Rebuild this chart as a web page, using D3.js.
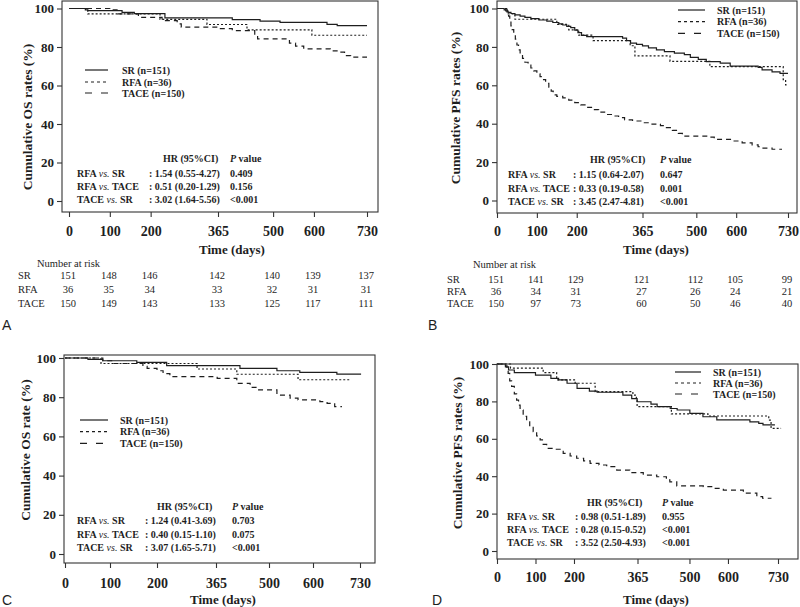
<!DOCTYPE html>
<html><head><meta charset="utf-8">
<script src="https://cdn.jsdelivr.net/npm/d3@7"></script>
<style>
body{margin:0;background:#fff;}
svg{display:block;}
text{white-space:pre;}
</style></head><body>
<svg id="chart" width="800" height="607"></svg>
<script>
// ---------- shared ticks / labels ----------
const xTicks = [0, 100, 200, 365, 500, 600, 730];
const yTicks = [0, 20, 40, 60, 80, 100];
const groups = ["SR", "RFA", "TACE"];
const legendLabels = ["SR (n=151)", "RFA (n=36)", "TACE (n=150)"];

// ---------- Panel A: OS ----------
const osA_SR = [[0,100],[40,99.3],[46,98.9],[130,98.0],[160,97.3],[235,95.1],[400,94.2],[468,93.4],[517,92.8],[632,91.8],[657,91.1],[730,91.1]];
const osA_RFA = [[0,100],[46,97.2],[223,94.4],[338,91.7],[436,88.9],[595,86.1],[730,86.1]];
const osA_TACE = [[0,100],[100,99.3],[120,97.2],[170,95.4],[228,93.7],[265,92.0],[275,90.3],[365,89.5],[400,88.5],[455,86.0],[462,84.2],[540,82.0],[555,80.5],[575,79.0],[640,78.0],[660,77.3],[675,75.5],[690,74.7],[730,74.7]];
const hrA = [["RFA","SR",": 1.54 (0.55-4.27)","0.409"],["RFA","TACE",": 0.51 (0.20-1.29)","0.156"],["TACE","SR",": 3.02 (1.64-5.56)","<0.001"]];
const riskA_SR = [151,148,146,142,140,139,137];
const riskA_RFA = [36,35,34,33,32,31,31];
const riskA_TACE = [150,149,143,133,125,117,111];

// ---------- Panel B: PFS ----------
const pfsB_SR = [[0,100],[18,99.3],[22,98.7],[28,98.0],[35,97.4],[45,96.7],[58,96.0],[70,95.4],[85,94.7],[105,94.0],[125,93.4],[140,92.7],[155,92.0],[165,91.4],[175,90.7],[185,90.0],[195,88.7],[203,87.4],[212,86.0],[225,85.3],[315,84.6],[325,83.3],[335,82.0],[350,81.3],[365,80.5],[380,79.5],[400,78.5],[420,77.5],[445,76.8],[470,76.0],[485,74.5],[505,73.5],[525,72.3],[560,71.5],[585,70.0],[655,69.3],[665,68.0],[690,67.0],[710,66.2],[730,66.2]];
const pfsB_RFA = [[0,100],[25,97.2],[45,94.4],[150,91.7],[180,88.9],[205,86.1],[241,83.3],[334,80.6],[346,75.3],[434,72.5],[534,69.7],[718,63.0],[724,60.2],[728,60.2]];
const pfsB_TACE = [[0,100],[22,99.3],[26,98],[29,96],[32,93.5],[35,91],[38,89],[42,86.5],[46,84],[50,81],[54,78.5],[58,76],[64,74],[70,72],[78,70.5],[85,69],[92,67.5],[100,66],[108,64.5],[115,63],[122,61],[130,59],[136,57],[141,55],[150,54.2],[165,53.5],[180,52.3],[195,51],[210,49.8],[225,48.5],[240,47.3],[255,46],[270,44.8],[290,44],[305,43.2],[320,42],[340,41.4],[365,40.5],[385,39.8],[410,39],[425,38],[440,36.5],[455,35],[465,33.5],[535,33],[545,31.8],[590,31],[615,30],[640,29],[655,28],[665,27.3],[690,26.7],[715,26.7]];
const hrB = [["RFA","SR",": 1.15 (0.64-2.07)","0.647"],["RFA","TACE",": 0.33 (0.19-0.58)","0.001"],["TACE","SR",": 3.45 (2.47-4.81)","<0.001"]];
const riskB_SR = [151,141,129,121,112,105,99];
const riskB_RFA = [36,34,31,27,26,24,21];
const riskB_TACE = [150,97,73,60,50,46,40];

// ---------- Panel C: OS ----------
const osC_SR = [[0,100],[51,99.3],[84,98.6],[157,97.8],[227,96.1],[426,94.7],[518,93.5],[570,92.7],[666,91.8],[733,91.8]];
const osC_RFA = [[0,100],[80,97.2],[312,94.4],[418,91.7],[566,88.9],[702,88.9]];
const osC_TACE = [[0,100],[84,98.6],[106,97.2],[170,95.8],[179,94.7],[200,93.5],[217,92.0],[236,90.5],[368,89.6],[418,87.1],[452,85.0],[470,83.7],[518,81.1],[548,79.5],[566,78.6],[619,77.7],[639,76.9],[660,75.2],[680,75.2]];
const hrC = [["RFA","SR",": 1.24 (0.41-3.69)","0.703"],["RFA","TACE",": 0.40 (0.15-1.10)","0.075"],["TACE","SR",": 3.07 (1.65-5.71)","<0.001"]];

// ---------- Panel D: PFS ----------
const pfsD_SR = [[0,100],[22,98.5],[30,96.8],[45,95.4],[100,94.1],[140,92.3],[160,91.5],[182,89.7],[208,87.0],[240,85.5],[260,84.9],[327,83.4],[350,81.5],[364,79.8],[400,78.5],[416,77.2],[450,76.2],[468,75.4],[501,73.6],[535,71.8],[571,70.1],[657,69.1],[680,68.2],[691,67.4],[722,67.4]];
const pfsD_RFA = [[0,100],[35,97.8],[120,95.4],[155,91.5],[203,89.7],[255,85.2],[353,83.4],[362,80.5],[364,77.2],[453,73.3],[548,72.2],[706,70.0],[712,65.6],[738,65.6]];
const pfsD_TACE = [[0,100],[22,99],[26,97],[29,95],[33,91],[38,88],[45,84],[51,80.7],[56,78],[60,75.4],[68,72],[77,69.1],[85,66.5],[94,63.8],[103,61.5],[112,59.4],[120,57],[129,54.9],[150,54.4],[172,52.2],[190,50.8],[207,49.6],[225,48.2],[242,46.9],[265,46],[285,45.1],[311,43.3],[345,41.9],[380,40.6],[415,39.7],[440,38],[449,37],[467,34.8],[536,34.4],[560,33.5],[588,32.6],[640,30.9],[675,29.1],[690,28.2],[713,28.2]];
const hrD = [["RFA","SR",": 0.98 (0.51-1.89)","0.955"],["RFA","TACE",": 0.28 (0.15-0.52)","<0.001"],["TACE","SR",": 3.52 (2.50-4.93)","<0.001"]];

// ---------- layout ----------
const SERIF = '"Liberation Serif","Times New Roman",serif';
const SANS = '"Liberation Sans",Arial,sans-serif';
const INK = "#1e1e1e";
const curveDash = {SR: null, RFA: "2,2", TACE: "5,4"};
const legendDash = {SR: null, RFA: "3,3", TACE: "7,9"};

const panels = [
  {letter:"A", letterPos:[2,330], series:[osA_SR,osA_RFA,osA_TACE], hr:hrA,
   box:[62,1,378,212], xDomain:[0,730], xRange:[69,367], yRange:[201,8.5], xLabC:231,
   ytitle:"Cumulative OS rates (%)", ytPos:[27,117], timePos:[232,249],
   legend:{l0:85,l1:108,tx:122,ys:[70,82,93]},
   hrPos:{hx:163,hy:158,px:230,lx:77,cx:149,ys:[173,186,199]},
   risk:{hx:37,hy:263,lx:18,ys:[275,289,303],rows:[riskA_SR,riskA_RFA,riskA_TACE]}},
  {letter:"B", letterPos:[428,330], series:[pfsB_SR,pfsB_RFA,pfsB_TACE], hr:hrB,
   box:[497,1,797,213], xDomain:[0,730], xRange:[497,788], yRange:[200.5,8.5], xLabC:231,
   ytitle:"Cumulative PFS rates (%)", ytPos:[455,108], timePos:[656,249],
   legend:{l0:678,l1:705,tx:717,ys:[10,21.7,33.3]},
   hrPos:{hx:590,hy:159,px:660,lx:508,cx:573,ys:[174,188,201]},
   risk:{hx:473,hy:264,lx:447,ys:[279,291,303],rows:[riskB_SR,riskB_RFA,riskB_TACE]}},
  {letter:"C", letterPos:[2,605], series:[osC_SR,osC_RFA,osC_TACE], hr:hrC,
   box:[64,355,375,563], xDomain:xTicks, xRange:[65,110,157,216,269,313,360], yRange:[554,358], xLabC:583,
   ytitle:"Cumulative OS rate (%)", ytPos:[25,450], timePos:[223,599],
   legend:{l0:80,l1:108,tx:120,ys:[420,431.7,443.3]},
   hrPos:{hx:157,hy:506,px:232,lx:77,cx:145,ys:[520,534,547]}},
  {letter:"D", letterPos:[432,605], series:[pfsD_SR,pfsD_RFA,pfsD_TACE], hr:hrD,
   box:[497,364,798,559], xDomain:[0,730], xRange:[497,778], yRange:[551,364], xLabC:577,
   ytitle:"Cumulative PFS rates (%)", ytPos:[457,453], timePos:[656,599],
   legend:{l0:675,l1:701,tx:713,ys:[372,383,394]},
   hrPos:{hx:587,hy:502,px:662,lx:507,cx:575,ys:[516,529,542]}}
];

const svg = d3.select("#chart");

function boldText(g, x, y, str, size) {
  return g.append("text").attr("x", x).attr("y", y).attr("dy", "0.35em")
    .attr("font-family", SERIF).attr("font-weight", "bold").attr("font-size", size)
    .attr("fill", INK).text(str);
}

panels.forEach(p => {
  const g = svg.append("g");
  const x = d3.scaleLinear().domain(p.xDomain).range(p.xRange);
  const y = d3.scaleLinear().domain([0, 100]).range(p.yRange);
  const [bx0, by0, bx1, by1] = p.box;

  // curves
  const line = d3.line().x(d => x(d[0])).y(d => y(d[1])).curve(d3.curveStepAfter);
  p.series.forEach((s, i) => {
    g.append("path").attr("d", line(s)).attr("fill", "none")
      .attr("stroke", INK).attr("stroke-width", 1.2)
      .attr("stroke-dasharray", curveDash[groups[i]]);
  });

  // frame
  g.append("rect").attr("x", bx0).attr("y", by0).attr("width", bx1 - bx0).attr("height", by1 - by0)
    .attr("fill", "none").attr("stroke", "#333").attr("stroke-width", 1.1);

  // x axis
  const labSize = 14;
  const pad = p.xLabC - by1 - 5 - 0.38 * labSize;
  const xa = g.append("g").attr("transform", `translate(0,${by1})`)
    .call(d3.axisBottom(x).tickValues(xTicks).tickSize(5).tickPadding(pad).tickFormat(d3.format("d")));
  xa.select(".domain").remove();
  xa.selectAll("line").attr("stroke", "#333").attr("stroke-width", 1.1);
  xa.selectAll("text").attr("font-family", SERIF).attr("font-weight", "bold")
    .attr("font-size", labSize).attr("fill", INK);

  // y axis
  const ya = g.append("g").attr("transform", `translate(${bx0},0)`)
    .call(d3.axisLeft(y).tickValues(yTicks).tickSize(5).tickPadding(3));
  ya.select(".domain").remove();
  ya.selectAll("line").attr("stroke", "#333").attr("stroke-width", 1.1);
  ya.selectAll("text").attr("font-family", SERIF).attr("font-weight", "bold")
    .attr("font-size", 13).attr("fill", INK);

  // titles
  g.append("text").attr("transform", `translate(${p.ytPos[0]},${p.ytPos[1]}) rotate(-90)`)
    .attr("text-anchor", "middle").attr("dy", "0.35em")
    .attr("font-family", SERIF).attr("font-weight", "bold").attr("font-size", 13.5)
    .attr("fill", INK).text(p.ytitle);
  boldText(g, p.timePos[0], p.timePos[1], "Time (days)", 13).attr("text-anchor", "middle");

  // legend
  groups.forEach((k, i) => {
    const ly = p.legend.ys[i];
    g.append("line").attr("x1", p.legend.l0).attr("x2", p.legend.l1).attr("y1", ly).attr("y2", ly)
      .attr("stroke", INK).attr("stroke-width", 1.2).attr("stroke-dasharray", legendDash[k]);
    boldText(g, p.legend.tx, ly, legendLabels[i], 10);
  });

  // HR table
  const h = p.hrPos;
  boldText(g, h.hx, h.hy, "HR (95%CI)", 10);
  const pv = boldText(g, h.px, h.hy, "", 10);
  pv.append("tspan").attr("font-style", "italic").text("P");
  pv.append("tspan").text(" value");
  p.hr.forEach((r, i) => {
    const t = boldText(g, h.lx, h.ys[i], "", 10);
    t.append("tspan").text(r[0] + " ");
    t.append("tspan").attr("font-style", "italic").attr("font-weight", "normal").text("vs.");
    t.append("tspan").text(" " + r[1]);
    boldText(g, h.cx, h.ys[i], r[2], 10);
    boldText(g, h.px, h.ys[i], r[3], 10);
  });

  // risk table
  if (p.risk) {
    const rk = p.risk;
    g.append("text").attr("x", rk.hx).attr("y", rk.hy).attr("dy", "0.35em")
      .attr("font-family", SERIF).attr("font-size", 10.5).attr("fill", INK).text("Number at risk");
    rk.rows.forEach((row, i) => {
      g.append("text").attr("x", rk.lx).attr("y", rk.ys[i]).attr("dy", "0.35em")
        .attr("font-family", SERIF).attr("font-size", 10.5).attr("fill", INK).text(groups[i]);
      g.selectAll(null).data(row).enter().append("text")
        .attr("x", (d, j) => x(xTicks[j]) - 1).attr("y", rk.ys[i]).attr("dy", "0.35em")
        .attr("text-anchor", "middle").attr("font-family", SERIF).attr("font-size", 10.5)
        .attr("fill", INK).text(d => d);
    });
  }

  // panel letter
  g.append("text").attr("x", p.letterPos[0]).attr("y", p.letterPos[1])
    .attr("font-family", SANS).attr("font-size", 14).attr("fill", INK).text(p.letter);
});
</script>
</body></html>
